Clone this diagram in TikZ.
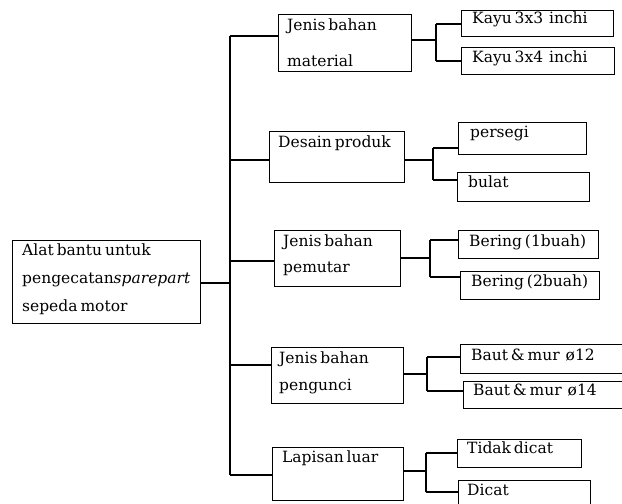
\documentclass[tikz,border=0pt]{standalone}
\usepackage{fontspec}
\setmainfont{DejaVu Serif}[WordSpace=0.6]
\begin{document}
\begin{tikzpicture}[x=1pt,y=-1pt,
  box/.style={draw=black,line width=1.2pt,rectangle,inner sep=0pt,anchor=north west},
  lbl/.style={anchor=base west,inner sep=0pt,font=\fontsize{15.5}{18}\selectfont},
  conn/.style={draw=black,line width=1.2pt}]
\useasboundingbox (0,0) rectangle (622,504);
\clip (0,0) rectangle (622,504);
\fill[white] (0,0) rectangle (622,504);
% boxes
\node[box,minimum width=188pt,minimum height=83pt] (root) at (12,240) {};
\node[box,minimum width=133pt,minimum height=57pt] (mat) at (278,14) {};
\node[box,minimum width=152pt,minimum height=26pt] (k1) at (461,10) {};
\node[box,minimum width=153pt,minimum height=27pt] (k2) at (461,47) {};
\node[box,minimum width=135pt,minimum height=51pt] (des) at (269,131) {};
\node[box,minimum width=128pt,minimum height=32pt] (per) at (458,122) {};
\node[box,minimum width=132pt,minimum height=29pt] (bul) at (457,172) {};
\node[box,minimum width=126pt,minimum height=56pt] (pem) at (274,230) {};
\node[box,minimum width=140pt,minimum height=28pt] (br1) at (458,230) {};
\node[box,minimum width=139pt,minimum height=28pt] (br2) at (460,271) {};
\node[box,minimum width=132pt,minimum height=56pt] (pen) at (271,347) {};
\node[box,minimum width=180pt,minimum height=29pt] (u12) at (460,344) {};
\node[box,minimum width=180pt,minimum height=27pt] (u14) at (463,381) {};
\node[box,minimum width=131pt,minimum height=53pt] (lap) at (272,447) {};
\node[box,minimum width=124pt,minimum height=28pt] (td) at (457,439) {};
\node[box,minimum width=132pt,minimum height=40pt] (dic) at (458,480) {};
% texts
\node[lbl] (rootA) at (22,255) {Alat bantu untuk};
\node[lbl] (rootB) at (22,283) {pengecatan\textit{sparepart}};
\node[lbl] (rootC) at (22,311) {sepeda motor};
\node[lbl] (matA) at (287,30) {Jenis bahan};
\node[lbl] (matB) at (287,66) {material};
\node[lbl] (k1t) at (472,23) {Kayu 3x3\ \ inchi};
\node[lbl] (k2t) at (472,62) {Kayu 3x4\ \ inchi};
\node[lbl] (dest) at (278,147) {Desain produk};
\node[lbl] (pert) at (470,137) {persegi};
\node[lbl] (bult) at (468,187) {bulat};
\node[lbl] (pemA) at (283,246) {Jenis bahan};
\node[lbl] (pemB) at (283,272) {pemutar};
\node[lbl] (br1t) at (469,246) {Bering (1buah)};
\node[lbl] (br2t) at (471,286) {Bering (2buah)};
\node[lbl] (penA) at (279,363) {Jenis bahan};
\node[lbl] (penB) at (279,390) {pengunci};
\node[lbl] (u12t) at (471,360) {Baut \& mur\ \ ø12};
\node[lbl] (u14t) at (473,395) {Baut \& mur\ \ ø14};
\node[lbl] (lapt) at (282,462) {Lapisan luar};
\node[lbl] (tdt) at (467,453) {Tidak dicat};
\node[lbl] (dict) at (467,495) {Dicat};
% trunk
\coordinate (t1) at (230,36);
\coordinate (t2) at (230,160);
\coordinate (t3) at (230,261);
\coordinate (tr) at (230,283);
\coordinate (t4) at (230,365);
\coordinate (t5) at (230,475);
\draw[conn] (t1) -- (t5);
\draw[conn] (root.east |- tr) -- (tr);
\draw[conn] (t1) -- (t1 -| mat.west);
\draw[conn] (t2) -- (t2 -| des.west);
\draw[conn] (t3) -- (t3 -| pem.west);
\draw[conn] (t4) -- (t4 -| pen.west);
\draw[conn] (t5) -- (t5 -| lap.west);
% branches
\coordinate (mA) at (436,40); \coordinate (mU) at (436,24); \coordinate (mD) at (436,61);
\draw[conn] (mat.east |- mA) -- (mA);
\draw[conn] (mU) -- (mD);
\draw[conn] (mU) -- (mU -| k1.west);
\draw[conn] (mD) -- (mD -| k2.west);
\coordinate (dA) at (433,160); \coordinate (dU) at (433,148); \coordinate (dD) at (433,180);
\draw[conn] (des.east |- dA) -- (dA);
\draw[conn] (dU) -- (dD);
\draw[conn] (dU) -- (dU -| per.west);
\draw[conn] (dD) -- (dD -| bul.west);
\coordinate (pA) at (430,258); \coordinate (pU) at (430,240); \coordinate (pD) at (430,277);
\draw[conn] (pem.east |- pA) -- (pA);
\draw[conn] (pU) -- (pD);
\draw[conn] (pU) -- (pU -| br1.west);
\draw[conn] (pD) -- (pD -| br2.west);
\coordinate (nA) at (427,374); \coordinate (nU) at (427,357); \coordinate (nD) at (427,391);
\draw[conn] (pen.east |- nA) -- (nA);
\draw[conn] (nU) -- (nD);
\draw[conn] (nU) -- (nU -| u12.west);
\draw[conn] (nD) -- (nD -| u14.west);
\coordinate (lA) at (426,471); \coordinate (lU) at (426,453); \coordinate (lD) at (426,492);
\draw[conn] (lap.east |- lA) -- (lA);
\draw[conn] (lU) -- (lD);
\draw[conn] (lU) -- (lU -| td.west);
\draw[conn] (lD) -- (lD -| dic.west);
\end{tikzpicture}
\end{document}
